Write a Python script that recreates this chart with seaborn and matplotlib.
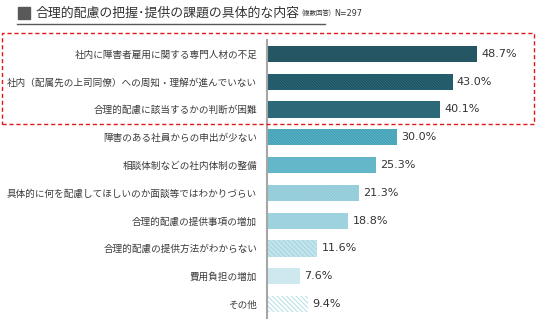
import matplotlib
matplotlib.use("Agg")
import matplotlib.pyplot as plt
import seaborn as sns
import pandas as pd
from matplotlib.patches import Rectangle
from matplotlib.lines import Line2D

categories = [
    "社内に障害者雇用に関する専門人材の不足",
    "社内（配属先の上司同僚）への周知・理解が進んでいない",
    "合理的配慮に該当するかの判断が困難",
    "障害のある社員からの申出が少ない",
    "相談体制などの社内体制の整備",
    "具体的に何を配慮してほしいのか面談等ではわかりづらい",
    "合理的配慮の提供事項の増加",
    "合理的配慮の提供方法がわからない",
    "費用負担の増加",
    "その他",
]
values = [48.7, 43.0, 40.1, 30.0, 25.3, 21.3, 18.8, 11.6, 7.6, 9.4]
value_labels = ["48.7%", "43.0%", "40.1%", "30.0%", "25.3%", "21.3%", "18.8%", "11.6%", "7.6%", "9.4%"]
title_main = "合理的配慮の把握･提供の課題の具体的な内容"
title_sub = "(複数回答)"
n_label = "N=297"

face_colors = ["#245763", "#2c6b7b", "#2b6878", "#5db4c7", "#64b6c9",
               "#a6d7e2", "#9ed2de", "#c3e4ec", "#cde8ee", "#ffffff"]
hatch_colors = [None, "#1d4f5d", None, "#3e9db2", None,
                "#88c6d4", None, "#a3d5e1", None, "#b3dde7"]
hatch_dense = "\\" * 12
hatch_light = "\\" * 7
hatches = [None, hatch_dense, None, hatch_dense, None, hatch_dense, None,
           hatch_light, None, hatch_light]

plt.rcParams["font.family"] = ["Noto Sans CJK JP", "DejaVu Sans"]
plt.rcParams["hatch.linewidth"] = 0.7

fig = plt.figure(figsize=(5.36, 3.29), dpi=100)
ax = fig.add_axes([267 / 536, 1 - 318 / 329, 259 / 536, 278 / 329])

df = pd.DataFrame({"cat": categories, "val": values})
sns.barplot(data=df, y="cat", x="val", hue="cat", palette=face_colors,
            orient="h", width=0.58, legend=False, ax=ax, saturation=1)

for i, p in enumerate(ax.patches):
    p.set_linewidth(0)
    if hatches[i]:
        p.set_hatch(hatches[i])
        p.set_edgecolor(hatch_colors[i])

for i, (v, lab) in enumerate(zip(values, value_labels)):
    ax.text(v + 1.0, i, lab, va="center", ha="left", fontsize=8,
            color="#333333", family=["DejaVu Sans"])

ax.set_xlim(0, 60)
ax.set_ylim(9.5, -0.5)
ax.set_xlabel("")
ax.set_ylabel("")
ax.set_xticks([])
for s in ["top", "right", "bottom"]:
    ax.spines[s].set_visible(False)
ax.spines["left"].set_color("#a6a6a6")
ax.spines["left"].set_linewidth(1.5)
ax.tick_params(axis="y", length=0, pad=7, labelsize=6.9, labelcolor="#3a3a3a")

# title
fig.patches.append(Rectangle((18 / 536, 1 - 19 / 329), 12 / 536, 12 / 329,
                             transform=fig.transFigure, color="#595959"))
fig.text(36 / 536, 1 - 13 / 329, title_main, fontsize=9.3, color="#333333",
         va="center", ha="left")
fig.text(301 / 536, 1 - 14 / 329, title_sub, fontsize=4.6, color="#333333",
         va="center", ha="left")
fig.text(334 / 536, 1 - 14 / 329, n_label, fontsize=5.8, color="#333333",
         va="center", ha="left", family=["DejaVu Sans"])
fig.lines.append(Line2D([17 / 536, 325 / 536], [1 - 24 / 329, 1 - 24 / 329],
                        transform=fig.transFigure, color="#595959", lw=1))

# red dashed highlight box
fig.patches.append(Rectangle((2 / 536, 1 - 124 / 329), 532 / 536, 91 / 329,
                             transform=fig.transFigure, fill=False,
                             edgecolor="#e0181b", lw=1, linestyle=(0, (3, 2))))

fig.savefig("out.png", dpi=100)
